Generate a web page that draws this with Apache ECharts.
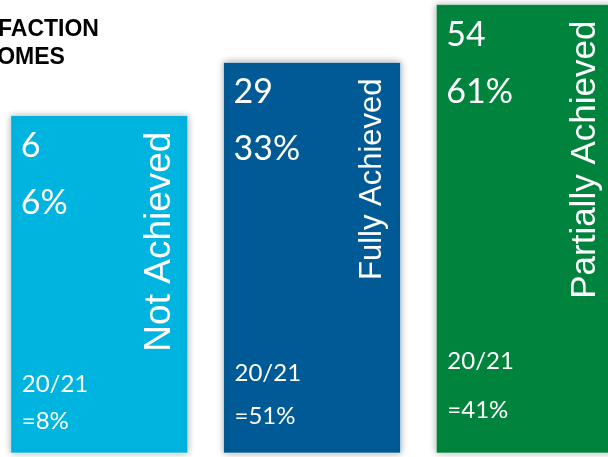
<!DOCTYPE html>
<html>
<head>
<meta charset="utf-8">
<script src="https://cdn.jsdelivr.net/npm/echarts@6/dist/echarts.min.js"></script>
<style>
  html, body { margin: 0; background: #fff; }
  #chart { width: 608px; height: 457px; }
</style>
</head>
<body>
<div id="chart"></div>
<script>
// outcome data
const categories = ['Not Achieved', 'Fully Achieved', 'Partially Achieved'];
const counts = [6, 29, 54];
const shares = [6, 33, 61];        // % this year
const priorPeriod = '20/21';
const priorShares = [8, 51, 41];   // % last year

// styling
const barColors = ['#00b4e0', '#005a95', '#00843d'];
const nameSizes = [37, 31, 35];
const yMin = -140;

const chart = echarts.init(document.getElementById('chart'));

function renderBar(params, api) {
  const i = api.value(0);
  const top = api.coord([i, api.value(1)]);
  const base = api.coord([i, yMin]);
  const w = api.size([1, 0])[0] * 0.832;
  const x0 = top[0] - w / 2;
  const y0 = top[1];
  const h = base[1] - top[1];
  const white = '#ffffff';
  return {
    type: 'group',
    children: [
      {
        type: 'rect',
        shape: { x: x0, y: y0, width: w, height: h },
        style: {
          fill: barColors[i],
          stroke: 'rgba(255,255,255,0.55)',
          lineWidth: 1,
          shadowBlur: 7,
          shadowColor: 'rgba(0,0,0,0.35)'
        }
      },
      {
        type: 'text', x: x0 + 10, y: y0 + 30,
        style: { text: String(counts[i]), font: '34px Lato', fill: white, align: 'left', verticalAlign: 'middle' }
      },
      {
        type: 'text', x: x0 + 10, y: y0 + 87,
        style: { text: shares[i] + '%', font: '34px Lato', fill: white, align: 'left', verticalAlign: 'middle' }
      },
      {
        type: 'text', x: x0 + 11, y: y0 + h * 0.795,
        style: { text: priorPeriod, font: '24px Lato', fill: white, align: 'left', verticalAlign: 'middle' }
      },
      {
        type: 'text', x: x0 + 11, y: y0 + h * 0.905,
        style: { text: '=' + priorShares[i] + '%', font: '24px Lato', fill: white, align: 'left', verticalAlign: 'middle' }
      },
      {
        type: 'text', x: x0 + w - 28, y: y0 + 16, rotation: Math.PI / 2,
        style: {
          text: categories[i],
          font: nameSizes[i] + 'px "Liberation Sans"',
          fill: white, align: 'right', verticalAlign: 'middle'
        }
      }
    ]
  };
}

chart.setOption({
  animation: false,
  backgroundColor: '#ffffff',
  graphic: [{
    type: 'text',
    left: -68,
    top: 16,
    style: {
      text: 'SATISFACTION\nOUTCOMES',
      font: 'bold 23px "Liberation Sans"',
      lineHeight: 28,
      fill: '#000000'
    }
  }],
  grid: { left: 0, right: 0, top: 0, bottom: 4 },
  // category index as a position; the last bar runs off the right edge
  xAxis: { type: 'value', min: -0.4665, max: 2.391, show: false, splitLine: { show: false } },
  yAxis: { type: 'value', min: yMin, max: 56, show: false, splitLine: { show: false } },
  series: [{
    type: 'custom',
    name: 'Outcomes',
    renderItem: renderBar,
    data: counts.map((v, i) => [i, v])
  }]
});
</script>
</body>
</html>
